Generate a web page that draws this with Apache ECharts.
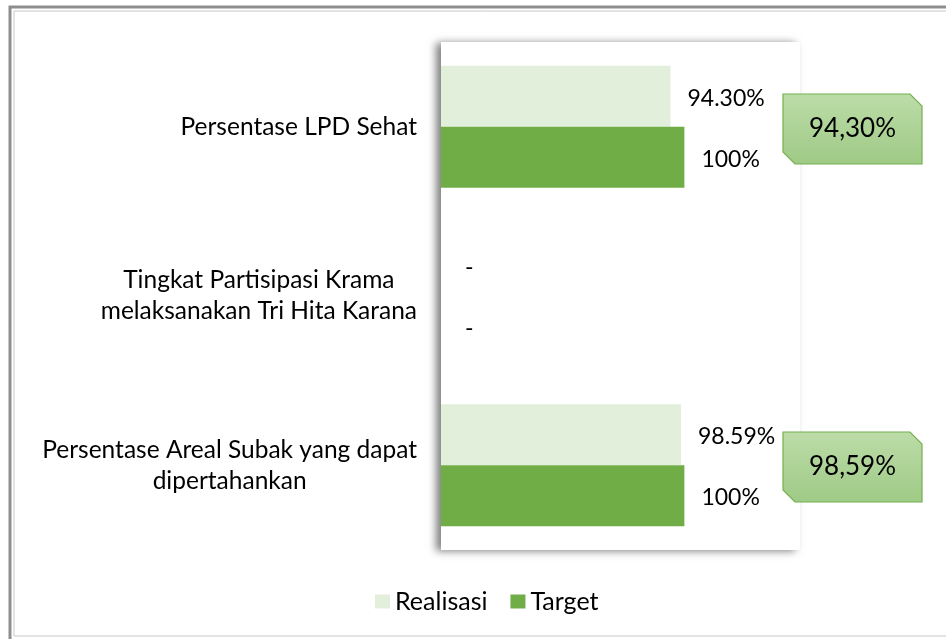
<!DOCTYPE html>
<html>
<head>
<meta charset="utf-8">
<script src="https://cdn.jsdelivr.net/npm/echarts@6/dist/echarts.min.js"></script>
<style>
html,body{margin:0;padding:0;background:#fff}
#chart{width:946px;height:639px}
</style>
</head>
<body>
<div id="chart"></div>
<script>
// data
var categories = ['Persentase LPD Sehat', 'Tingkat Partisipasi Krama\nmelaksanakan Tri Hita Karana', 'Persentase Areal Subak yang dapat\ndipertahankan'];
var realisasi = [94.30, 0, 98.59];
var target = [100, 0, 100];
var realisasiLabels = ['94.30%', '-', '98.59%'];
var targetLabels = ['100%', '-', '100%'];
var calloutIndex = [0, 2];
var calloutTexts = ['94,30%', '98,59%'];

var FONT = 'Lato';
var chart = echarts.init(document.getElementById('chart'));

var labelFmt = function(list){
	return function(p){
		var t = list[p.dataIndex];
		return t == '-' ? '{d|-}' : t;
	};
};

var valueLabel = function(list){
	return {
		show: true,
		position: 'right',
		distance: 17,
		offset: [0, 2],
		color: '#000',
		fontFamily: FONT,
		fontSize: 23,
		formatter: labelFmt(list),
		rich: { d: { padding: [0, 0, 0, 7], fontSize: 23, fontFamily: FONT, color: '#000' } }
	};
};

var option = {
	animation: false,
	backgroundColor: '#fff',
	grid: {
		show: true,
		left: 441,
		top: 42,
		width: 359,
		height: 508,
		backgroundColor: '#fff',
		borderWidth: 0,
		shadowColor: 'rgba(0,0,0,0.5)',
		shadowBlur: 8,
		shadowOffsetX: -5,
		shadowOffsetY: 1
	},
	xAxis: {
		type: 'value',
		min: 0,
		max: 147.5,
		show: false
	},
	yAxis: {
		type: 'category',
		inverse: true,
		data: categories,
		axisLine: { show: false },
		axisTick: { show: false },
		axisLabel: {
			margin: 24,
			align: 'right',
			formatter: function(v){
				// lines centred inside a right-aligned block
				return v.split('\n').map(function(s){ return '{c|' + s + '}'; }).join('\n');
			},
			rich: {
				c: { align: 'center', color: '#000', fontFamily: FONT, fontSize: 24.5, lineHeight: 31 }
			}
		}
	},
	legend: {
		bottom: 20,
		left: 370,
		itemWidth: 15,
		itemHeight: 14,
		itemGap: 23,
		icon: 'rect',
		textStyle: { fontFamily: FONT, fontSize: 25, color: '#000' },
		data: ['Realisasi', 'Target']
	},
	series: [
		{
			name: 'Realisasi',
			type: 'bar',
			data: realisasi,
			barGap: '0%',
			barCategoryGap: '28%',
			itemStyle: { color: '#E2EFDA' },
			label: valueLabel(realisasiLabels)
		},
		{
			name: 'Target',
			type: 'bar',
			data: target,
			barGap: '0%',
			barCategoryGap: '28%',
			itemStyle: { color: '#70AD47' },
			label: valueLabel(targetLabels)
		}
	]
};
chart.setOption(option);

// outer frame and callout boxes
var graphics = [
	{ type: 'rect', silent: true, shape: { x: 10, y: 7, width: 960, height: 640 }, style: { fill: null, stroke: '#8e8e8e', lineWidth: 3 } },
	{ type: 'rect', silent: true, shape: { x: 14, y: 11, width: 960, height: 625 }, style: { fill: null, stroke: '#c8c8c8', lineWidth: 1 } }
];
var bw = 139, bh = 70, cut = 12;
for(var i = 0; i < calloutIndex.length; i++){
	var cy = chart.convertToPixel({ yAxisIndex: 0 }, categories[calloutIndex[i]]);
	graphics.push({
		type: 'group',
		x: 783,
		y: Math.round(cy - bh / 2 + 2),
		children: [
			{
				type: 'polygon',
				shape: { points: [[0, 0], [bw - cut, 0], [bw, cut], [bw, bh], [cut, bh], [0, bh - cut]] },
				style: {
					fill: new echarts.graphic.LinearGradient(0, 0, 0, 1, [
						{ offset: 0, color: '#bcdca8' },
						{ offset: 1, color: '#9fca86' }
					]),
					stroke: '#74b04f',
					lineWidth: 1.2
				}
			},
			{
				type: 'text',
				x: bw / 2,
				y: bh / 2,
				style: {
					text: calloutTexts[i],
					fill: '#000',
					font: '26px ' + FONT,
					align: 'center',
					verticalAlign: 'middle'
				}
			}
		]
	});
}
chart.setOption({ graphic: graphics });
</script>
</body>
</html>
